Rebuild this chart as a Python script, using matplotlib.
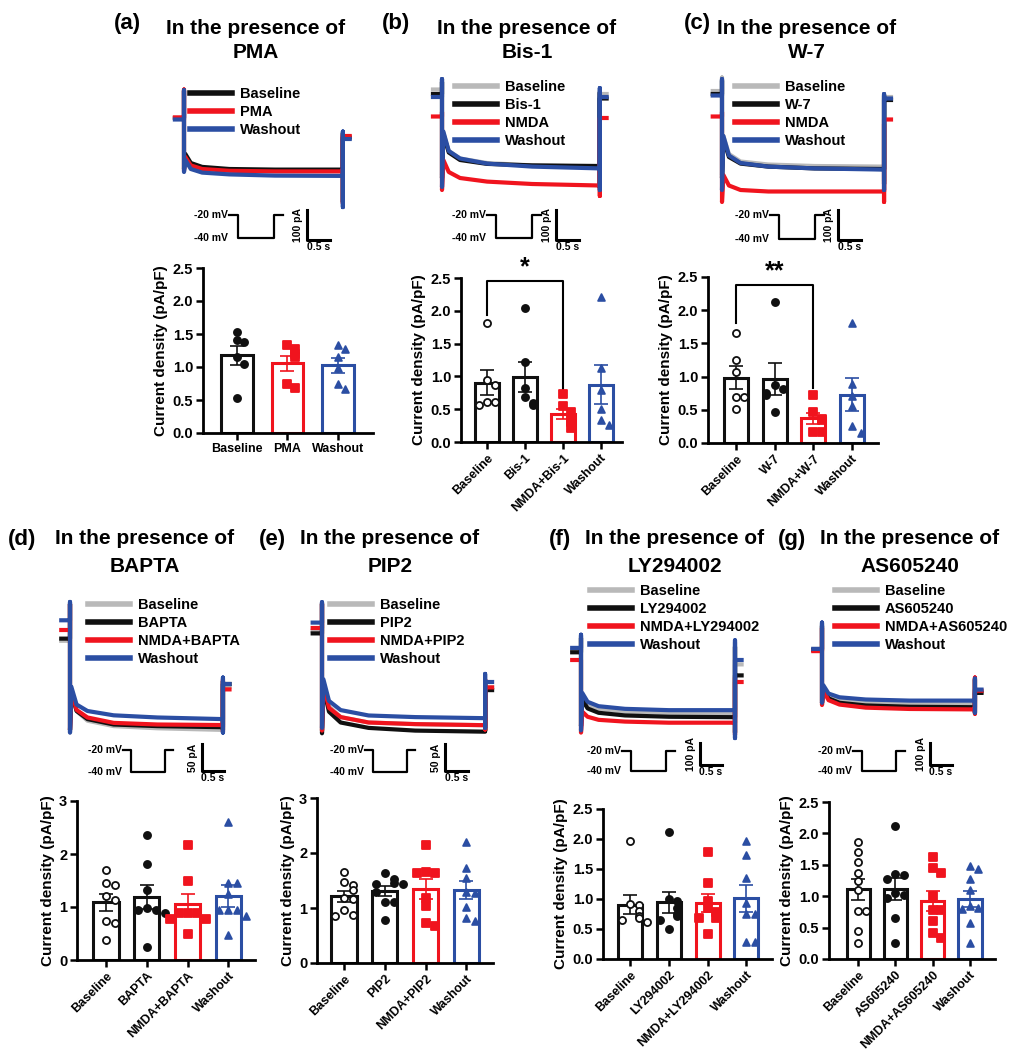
import numpy as np
import matplotlib.pyplot as plt
from matplotlib.lines import Line2D

plt.rcParams['font.family'] = ['Liberation Sans', 'DejaVu Sans']
plt.rcParams['font.weight'] = 'bold'
plt.rcParams['axes.labelweight'] = 'bold'

W, H = 1024, 1050
GRAY = '#b9b9b9'
BLACK = '#101010'
RED = '#f0141e'
BLUE = '#2b4ea3'

# time points (s) of the current traces and of the voltage protocol sketch
TRACE_T = [-0.2, 0.0, 0.0, 0.0, 0.03, 0.15, 0.4, 1.0, 2.0, 3.5, 3.5, 3.5, 3.5, 3.65]
PROT_T = [0, 0.25, 0.25, 1.25, 1.25, 1.5]
PROT_V = [-20, -20, -40, -40, -20, -20]

# current traces (pA): pre, spike up, spike down, level at 0.03/0.15/0.4/1/2/3.5 s,
# end spike up, end spike down, tail
a_traces = {'Baseline': [0, 90, -170, -120, -150, -163, -170, -172, -172, -50, -280, -65],
            'PMA': [2, 95, -175, -130, -158, -170, -176, -178, -178, -55, -285, -60],
            'Washout': [-5, 93, -180, -140, -170, -182, -188, -192, -193, -45, -297, -70]}
b_traces = {'Baseline': [35, 70, -250, -110, -170, -195, -210, -218, -222, 30, -280, 20],
            'Bis-1': [20, 60, -260, -115, -175, -200, -213, -218, -220, 25, -285, 5],
            'NMDA': [-55, -40, -300, -200, -240, -260, -272, -280, -285, -60, -320, -60],
            'Washout': [10, 70, -290, -105, -170, -195, -212, -222, -228, 40, -300, 10]}
c_traces = {'Baseline': [30, 75, -250, -120, -180, -205, -215, -220, -222, 20, -270, 10],
            'W-7': [20, 65, -260, -130, -190, -212, -222, -228, -230, 15, -280, 0],
            'NMDA': [-55, -40, -340, -250, -285, -300, -305, -305, -305, -80, -340, -65],
            'Washout': [15, 70, -300, -120, -185, -210, -222, -228, -232, 20, -300, 5]}
d_traces = {'Baseline': [-20, 50, -190, -110, -150, -168, -178, -182, -185, -95, -190, -105],
            'BAPTA': [-16, 48, -185, -115, -150, -165, -175, -178, -180, -95, -185, -100],
            'NMDA+BAPTA': [0, 48, -185, -112, -148, -162, -172, -175, -176, -92, -188, -110],
            'Washout': [18, 52, -190, -105, -138, -150, -158, -162, -165, -88, -190, -100]}
e_traces = {'Baseline': [-5, 45, -190, -100, -145, -165, -175, -178, -180, -95, -185, -110],
            'PIP2': [-10, 45, -195, -110, -155, -175, -185, -190, -192, -100, -190, -115],
            'NMDA+PIP2': [0, 45, -190, -105, -148, -165, -175, -178, -180, -95, -188, -110],
            'Washout': [10, 48, -185, -95, -135, -152, -162, -165, -167, -85, -185, -100]}
f_traces = {'Baseline': [45, 110, -300, -160, -200, -222, -235, -242, -245, 80, -330, -20],
            'LY294002': [35, 100, -300, -180, -220, -240, -252, -258, -260, 60, -330, -70],
            'NMDA+LY294002': [0, 0, -330, -235, -258, -272, -280, -285, -285, -80, -340, -100],
            'Washout': [55, 115, -320, -150, -190, -210, -222, -228, -228, 90, -355, 0]}
g_traces = {'Baseline': [5, 120, -230, -170, -210, -228, -238, -242, -242, -130, -280, -190],
            'AS605240': [0, 110, -240, -180, -220, -240, -252, -258, -260, -135, -285, -195],
            'NMDA+AS605240': [-5, 100, -250, -185, -228, -248, -262, -268, -270, -125, -290, -185],
            'Washout': [5, 125, -240, -160, -198, -215, -225, -230, -230, -130, -285, -180]}

# current density (pA/pF), one list per cell
a_groups = ['Baseline', 'PMA', 'Washout']
a_points = [[1.53, 1.41, 1.38, 1.15, 1.05, 0.53],
            [1.33, 1.27, 1.19, 1.15, 0.74, 0.68],
            [1.33, 1.27, 1.15, 0.98, 0.75, 0.66]]
b_groups = ['Baseline', 'Bis-1', 'NMDA+Bis-1', 'Washout']
b_points = [[1.81, 0.95, 0.87, 0.61, 0.61, 0.56],
            [2.05, 1.22, 0.82, 0.69, 0.60, 0.56],
            [0.73, 0.55, 0.45, 0.35, 0.30, 0.22],
            [2.21, 1.13, 0.80, 0.50, 0.33, 0.26]]
c_groups = ['Baseline', 'W-7', 'NMDA+W-7', 'Washout']
c_points = [[1.65, 1.25, 1.07, 0.70, 0.70, 0.51],
            [2.13, 0.87, 0.81, 0.76, 0.73, 0.47],
            [0.72, 0.46, 0.36, 0.34, 0.17, 0.17],
            [1.81, 0.89, 0.71, 0.56, 0.25, 0.15]]
d_groups = ['Baseline', 'BAPTA', 'NMDA+BAPTA', 'Washout']
d_points = [[1.70, 1.45, 1.42, 1.20, 1.13, 0.74, 0.70, 0.38],
            [2.36, 1.81, 1.32, 0.98, 0.95, 0.95, 0.88, 0.25],
            [2.17, 1.50, 0.89, 0.89, 0.89, 0.77, 0.77, 0.50],
            [2.61, 1.45, 1.45, 1.24, 0.94, 0.94, 0.94, 0.83, 0.48]]
e_groups = ['Baseline', 'PIP2', 'NMDA+PIP2', 'Washout']
e_points = [[1.66, 1.48, 1.42, 1.33, 1.18, 1.16, 0.96, 0.87, 0.85],
            [1.63, 1.53, 1.46, 1.43, 1.43, 1.30, 1.11, 1.11, 0.78],
            [2.15, 1.66, 1.64, 1.64, 1.19, 1.04, 0.72, 0.67],
            [2.20, 1.72, 1.54, 1.30, 1.27, 1.01, 0.82, 0.76]]
f_groups = ['Baseline', 'LY294002', 'NMDA+LY294002', 'Washout']
f_points = [[1.97, 0.92, 0.90, 0.80, 0.72, 0.68, 0.65, 0.62],
            [2.12, 1.00, 0.96, 0.85, 0.75, 0.71, 0.65, 0.50],
            [1.78, 1.27, 0.97, 0.85, 0.78, 0.69, 0.69, 0.42],
            [1.96, 1.74, 1.35, 0.94, 0.75, 0.75, 0.29, 0.29]]
g_groups = ['Baseline', 'AS605240', 'NMDA+AS605240', 'Washout']
g_points = [[1.87, 1.70, 1.55, 1.37, 1.24, 1.10, 0.77, 0.77, 0.45, 0.26],
            [2.12, 1.36, 1.34, 1.27, 1.05, 1.02, 0.97, 0.66, 0.26],
            [1.62, 1.45, 1.37, 1.00, 0.78, 0.78, 0.60, 0.41, 0.33],
            [1.48, 1.43, 1.27, 1.10, 0.85, 0.82, 0.80, 0.58, 0.26]]

fig = plt.figure(figsize=(W / 100, H / 100), dpi=100)


def to_fig(x0, y0, x1, y1):
    # pixel box (top-left origin) -> figure fraction
    return [x0 / W, 1 - y1 / H, (x1 - x0) / W, (y1 - y0) / H]


def spread(vals, step, gap):
    # simple beeswarm: points with close values get pushed sideways
    offs = np.zeros(len(vals))
    placed = []
    for i in np.argsort(vals)[::-1]:
        k = sum(1 for j in placed if abs(vals[j] - vals[i]) < gap)
        if k:
            offs[i] = ((k + 1) // 2) * step * (1 if k % 2 else -1)
        placed.append(i)
    return offs


def draw_traces(trace_px, traces, legend_xy, scale_px, prot_px):
    t0, pps, zero, ppa = trace_px
    top, bot = 250, -450
    ax = fig.add_axes(to_fig(t0 - 0.2 * pps, zero - top * ppa, t0 + 3.65 * pps, zero - bot * ppa))
    ax.set_xlim(-0.2, 3.65)
    ax.set_ylim(bot, top)
    ax.axis('off')
    cols = [BLACK, RED, BLUE] if len(traces) == 3 else [GRAY, BLACK, RED, BLUE]
    handles = []
    for (name, v), c in zip(traces.items(), cols):
        y = [v[0]] + list(v) + [v[-1]]
        ax.plot(TRACE_T, y, color=c, lw=3, clip_on=False)
        handles.append(Line2D([], [], color=c, lw=4, label=name))
    ax.legend(handles=handles, loc='upper left',
              bbox_to_anchor=(legend_xy[0] / W, 1 - legend_xy[1] / H),
              bbox_transform=fig.transFigure, frameon=False, fontsize=10.5,
              handlelength=2.9, handletextpad=0.5, labelspacing=0.28,
              borderpad=0, borderaxespad=0)

    # scale bar
    cx, cy, amp = scale_px
    sx = (cx - t0) / pps
    sy = (zero - cy) / ppa
    ax.plot([sx, sx, sx + 0.5], [sy + amp, sy, sy], color='k', lw=2.2, clip_on=False)
    ax.annotate(f'{amp} pA', (sx, sy + amp / 2), xytext=(-3, 0), textcoords='offset points',
                rotation=90, ha='right', va='center', fontsize=7.5, annotation_clip=False)
    ax.annotate('0.5 s', (sx + 0.25, sy), xytext=(0, -1.5), textcoords='offset points',
                ha='center', va='top', fontsize=7.5, annotation_clip=False)

    # voltage protocol
    pax = fig.add_axes(to_fig(*prot_px))
    pax.set_xlim(0, 1.5)
    pax.set_ylim(-40, -20)
    pax.axis('off')
    pax.plot(PROT_T, PROT_V, color='k', lw=1.6, clip_on=False)
    pax.annotate('-20 mV', (0, -20), xytext=(-1, 0), textcoords='offset points',
                 ha='right', va='center', fontsize=7.5, annotation_clip=False)
    pax.annotate('-40 mV', (0, -40), xytext=(-1, 0), textcoords='offset points',
                 ha='right', va='center', fontsize=7.5, annotation_clip=False)


def draw_bars(box, xlim, ymax, groups, points, step, bracket=None):
    ax = fig.add_axes(to_fig(*box))
    ax.patch.set_alpha(0)
    n = len(groups)
    if n == 3:
        cols = [BLACK, RED, BLUE]
        marks = [('o', BLACK), ('s', RED), ('^', BLUE)]
    else:
        cols = [BLACK, BLACK, RED, BLUE]
        marks = [('o', 'white'), ('o', BLACK), ('s', RED), ('^', BLUE)]
    gap = 0.12 * ymax / 2.5
    for i, vals in enumerate(points):
        vals = np.asarray(vals)
        mean = vals.mean()
        sem = vals.std(ddof=1) / np.sqrt(len(vals))
        c = cols[i]
        ax.bar(i, mean, width=0.62, facecolor='none', edgecolor=c, lw=2.2, zorder=2)
        ax.errorbar(i, mean, yerr=sem, color=c, lw=1.2, capsize=5, capthick=1.2, zorder=3)
        m, fc = marks[i]
        ax.scatter(i + spread(vals, step, gap), vals, marker=m, s=26 if m != '^' else 24,
                   facecolors=fc, edgecolors=c, linewidths=1.3, zorder=4, clip_on=False)
    ax.set_xlim(*xlim)
    ax.set_ylim(0, ymax)
    if ymax == 3:
        ax.set_yticks([0, 1, 2, 3])
    else:
        ax.set_yticks(np.arange(0, 2.51, 0.5))
        ax.set_yticklabels([f'{t:.1f}' for t in np.arange(0, 2.51, 0.5)])
    ax.set_xticks(range(n))
    if n == 3:
        ax.set_xticklabels(groups, fontsize=9)
    else:
        ax.set_xticklabels(groups, fontsize=9, rotation=45, ha='right', rotation_mode='anchor')
    for s in ['top', 'right']:
        ax.spines[s].set_visible(False)
    for s in ['left', 'bottom']:
        ax.spines[s].set_linewidth(2)
    ax.tick_params(width=1.8, length=5)
    ax.tick_params(axis='x', pad=2)
    ax.tick_params(axis='y', labelsize=10.5, pad=2)
    ax.set_ylabel('Current density (pA/pF)', fontsize=11, labelpad=3)
    if bracket:
        i0, i1, top, y0, y1, txt = bracket
        ax.plot([i0, i0, i1, i1], [y0, top, top, y1], color='k', lw=1.5, clip_on=False)
        ax.text((i0 + i1) / 2, top + 0.04 * ymax, txt, ha='center', va='baseline',
                fontsize=18, clip_on=False)


panels = [
    ('(a)', (127, 24), 'PMA', 256, (28, 52), a_traces, (184, 45.4, 118, 0.30), (190, 87),
     (307, 240, 100), (229, 215, 283, 238), a_groups, a_points,
     (203, 268, 373, 433), (-0.67, 2.69), 2.5, 0.14, None),
    ('(b)', (396, 24), 'Bis-1', 527, (28, 52), b_traces, (442, 45.1, 100, 0.30), (455, 80),
     (556, 240, 100), (487, 215, 541, 238), b_groups, b_points,
     (461, 278, 622, 442), (-0.68, 3.55), 2.5, 0.22, (0, 2, 2.45, 1.94, 0.8, '*')),
    ('(c)', (697, 24), 'W-7', 807, (28, 52), c_traces, (722, 46.3, 100, 0.30), (735, 80),
     (838, 240, 100), (770, 215, 824, 239), c_groups, c_points,
     (708, 277, 878, 443), (-0.72, 3.67), 2.5, 0.22, (0, 2, 2.38, 1.81, 0.83, '**')),
    ('(d)', (22, 540), 'BAPTA', 145, (538, 566), d_traces, (70, 43.7, 630, 0.54), (88, 598),
     (202, 771, 50), (123, 750, 173, 772), d_groups, d_points,
     (77, 801, 255, 960), (-0.71, 3.65), 3, 0.22, None),
    ('(e)', (272, 540), 'PIP2', 390, (538, 566), e_traces, (322, 46.6, 628, 0.54), (330, 598),
     (445, 771, 50), (365, 750, 415, 772), e_groups, e_points,
     (317, 798, 493, 963), (-0.66, 3.65), 3, 0.22, None),
    ('(f)', (560, 540), 'LY294002', 675, (538, 566), f_traces, (581, 44.0, 660, 0.22), (590, 584),
     (700, 765, 100), (622, 751, 675, 771), f_groups, f_points,
     (603, 809, 772, 959), (-0.70, 3.66), 2.5, 0.22, None),
    ('(g)', (792, 540), 'AS605240', 910, (538, 566), g_traces, (822, 43.7, 650, 0.22), (835, 584),
     (930, 765, 100), (853, 751, 905, 771), g_groups, g_points,
     (829, 802, 995, 959), (-0.78, 3.67), 2.5, 0.22, None),
]

for (lab, lab_xy, drug, tx, ty, traces, trace_px, leg_xy, scale_px, prot_px,
     groups, points, box, xlim, ymax, step, bracket) in panels:
    fig.text(lab_xy[0] / W, 1 - lab_xy[1] / H, lab, ha='center', va='center', fontsize=16)
    fig.text(tx / W, 1 - ty[0] / H, 'In the presence of', ha='center', va='center', fontsize=15)
    fig.text(tx / W, 1 - ty[1] / H, drug, ha='center', va='center', fontsize=15)
    draw_traces(trace_px, traces, leg_xy, scale_px, prot_px)
    draw_bars(box, xlim, ymax, groups, points, step, bracket)

fig.savefig('out.png', dpi=100)
